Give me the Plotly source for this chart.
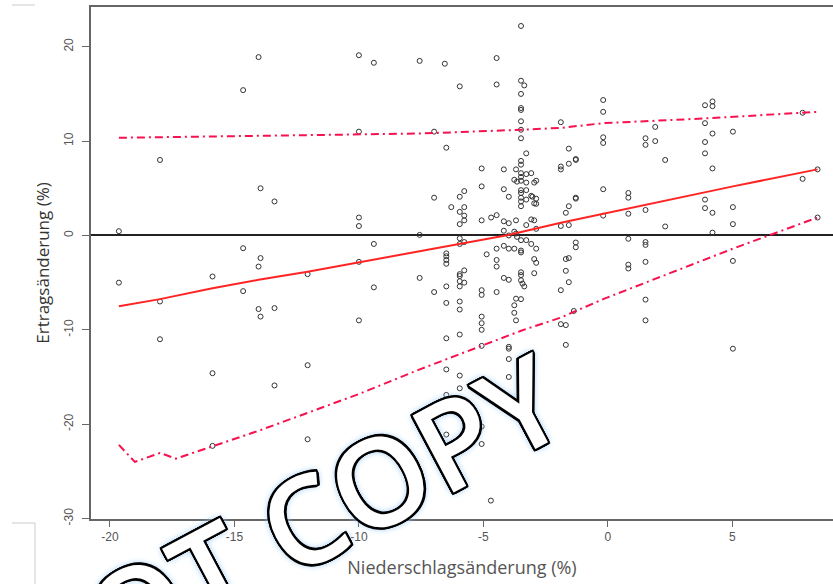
import plotly.graph_objects as go

# ---------------- data ----------------
# precipitation change (%) of each station column, and the yield changes (%) observed there
col_x = [-19.64, -17.99, -15.88, -14.65, -14.03, -13.95, -13.39, -12.06, -10.0, -9.40,
         -7.56, -6.98, -6.55, -6.49, -6.29, -5.95, -5.77, -5.07, -4.87, -4.69,
         -4.70, -4.47, -4.18, -3.98, -3.76, -3.69, -3.65, -3.49, -3.43, -3.36,
         -3.28, -3.08, -3.03, -2.96, -2.88, -1.89, -1.69, -1.57, -1.37, -1.29,
         -0.19, 0.82, 1.51, 1.90, 2.30, 3.90, 4.20, 5.02, 7.82, 8.42]
col_y = [
    [0.45, -5.0],
    [8.0, -7.0, -11.0],
    [-4.35, -14.6, -22.3],
    [15.4, -1.35, -5.9],
    [18.9, -3.3, -7.8],
    [5.0, -2.4, -8.6],
    [3.6, -7.7, -15.9],
    [-4.1, -13.75, -21.6],
    [19.1, 11.0, 1.9, 1.0, -2.8, -9.0],
    [18.3, -0.9, -5.5],
    [18.5, 0.06, -4.5],
    [11.0, 4.0, -6.0],
    [18.2],
    [9.3, -1.9, -2.2, -2.6, -3.0, -5.4, -7.15, -10.9, -14.2, -16.9, -18.2, -21.1],
    [3.0, -22.1],
    [15.8, 4.1, 2.5, 1.2, -0.3, -0.9, -4.1, -4.3, -4.85, -5.4, -7.0, -7.85, -10.5, -14.85, -16.2],
    [4.7, 3.0, 2.1, 1.6, -0.7, -3.7, -5.0, -18.1],
    [7.1, 5.2, 1.6, -5.8, -6.3, -8.6, -9.3, -10.0, -11.7, -20.25, -22.1],
    [-2.0],
    [1.9],
    [-28.1],
    [18.8, 16.0, 2.15, -1.4, -2.6, -3.3, -6.0],
    [7.0, 4.9, 1.5, 0.5, -1.1, -4.5],
    [4.1, 1.3, 0.0, -1.4, -4.7, -11.8, -12.0, -13.1, -15.0],
    [5.9, 0.4, -1.4, -7.4, -8.2],
    [7.0, 1.6, 0.2, -6.7, -9.0],
    [5.7, -0.15],
    [22.2, 16.4, 15.0, 13.5, 13.3, 12.1, 11.2, 10.3, 7.9, 7.5, 6.6, 6.2, 5.8, 4.8, 4.5,
     4.0, 3.6, 3.1, -0.5, -1.6, -1.8, -3.9, -4.2, -4.75, -6.75],
    [-5.1],
    [15.9, -5.4],
    [8.7, 6.5, 5.6, 4.8, 3.8, 1.1, -0.5],
    [6.6, 4.2, 1.7, -0.9],
    [4.1],
    [5.6, 3.4, 1.6, -2.5, -4.0],
    [5.8, 3.9, 3.35, 0.7, -1.4, -2.9],
    [12.0, 7.3, 7.0, 1.0, -5.8, -9.4],
    [2.4, -2.5, -3.75, -9.5, -11.6],
    [9.2, 7.6, 3.1, 1.1, -2.4, -4.95],
    [-8.0],
    [8.1, 8.0, 4.0, 3.9, -0.75, -1.25],
    [14.35, 13.1, 10.4, 9.8, 4.9, 2.1],
    [4.5, 4.0, 2.3, -0.35, -3.1, -3.5],
    [10.3, 9.6, 2.7, -0.7, -1.0, -2.8, -6.8, -9.0],
    [11.5, 10.0],
    [8.0, 0.95],
    [13.8, 11.9, 9.9, 8.7, 3.8, 2.9],
    [14.2, 13.7, 10.8, 7.1, 2.4, 0.3],
    [11.0, 3.0, 1.2, -2.7, -12.0],
    [13.0, 6.0],
    [7.0, 1.9],
]

# fitted line and the upper / lower bounds
fit_x = [-19.64, -17.99, -15.88, -14.03, -12.06, -10.0, -7.56, -5.97, -4.0, -1.89, -0.19, 1.51, 4.2, 5.02, 8.42]
fit_y = [-7.5, -6.75, -5.6, -4.7, -3.85, -2.85, -1.65, -0.85, 0.05, 1.35, 2.3, 3.2, 4.7, 5.2, 7.0]

upper_x = [-19.64, -12.37, -7.55, -3.49, -1.89, -0.19, 3.9, 8.42]
upper_y = [10.35, 10.6, 10.8, 11.2, 11.4, 11.9, 12.4, 13.1]

lower_x = [-19.64, -19.0, -17.99, -17.35, -15.88, -14.03, -12.06, -10.0, -7.56, -5.07, -3.49, -1.89, -0.19, 1.51, 4.2, 5.02, 8.42]
lower_y = [-22.2, -24.0, -23.05, -23.65, -22.35, -20.7, -18.8, -16.8, -14.2, -11.7, -10.1, -8.7, -6.75, -5.0, -2.3, -1.4, 1.9]

x_ticks = [-20, -15, -10, -5, 0, 5]
y_ticks = [-30, -20, -10, 0, 10, 20]
x_title = "Niederschlagsänderung (%)"
y_title = "Ertragsänderung (%)"
watermark = "DO NOT COPY"

# ---------------- figure ----------------
pts_x, pts_y = [], []
for cx, ys in zip(col_x, col_y):
    for v in ys:
        pts_x.append(cx)
        pts_y.append(v)

fig = go.Figure()
fig.add_trace(go.Scatter(
    x=pts_x, y=pts_y, mode="markers",
    marker=dict(symbol="circle-open", size=5, color="#333333", line=dict(width=1, color="#333333")),
    hoverinfo="skip", showlegend=False))
fig.add_trace(go.Scatter(x=upper_x, y=upper_y, mode="lines",
                         line=dict(color="#f5124e", width=2, dash="8px,4px,2px,4px"), showlegend=False))
fig.add_trace(go.Scatter(x=lower_x, y=lower_y, mode="lines",
                         line=dict(color="#f5124e", width=2, dash="8px,4px,2px,4px"), showlegend=False))
fig.add_trace(go.Scatter(x=fit_x, y=fit_y, mode="lines",
                         line=dict(color="#ff2424", width=2), showlegend=False))

W, H = 833, 584
L, R, T, B = 91, 0, 7, 65
pw, ph = W - L - R, H - T - B

tickfont = dict(family="Liberation Sans, Arial, sans-serif", size=12, color="#555555")

fig.update_layout(
    width=W, height=H,
    margin=dict(l=L, r=R, t=T, b=B, pad=0),
    paper_bgcolor="white", plot_bgcolor="white",
    showlegend=False,
    xaxis=dict(range=[-20.76, 9.04], tickvals=x_ticks, ticktext=[str(v) for v in x_ticks],
               ticks="outside", ticklen=6, tickwidth=1, tickcolor="#666666",
               showline=True, linecolor="#666666", linewidth=1.5, mirror=True,
               showgrid=False, zeroline=False, tickfont=tickfont,
               title=dict(text=x_title, font=dict(family="Open Sans, sans-serif", size=18, color="#555555"),
                          standoff=18)),
    yaxis=dict(range=[-30.05, 24.21], tickvals=y_ticks, ticktext=[str(v) for v in y_ticks],
               tickangle=-90, ticks="outside", ticklen=7, tickwidth=1, tickcolor="#666666",
               showline=True, linecolor="#666666", linewidth=1.5, mirror=False,
               showgrid=False, zeroline=True, zerolinecolor="#222222", zerolinewidth=1.5,
               tickfont=tickfont, ticklabelstandoff=4,
               title=dict(text=y_title, font=dict(family="Open Sans, sans-serif", size=17, color="#333333"),
                          standoff=9)),
)

def px(xp):
    return (xp - L) / pw

def py(yp):
    return (H - B - yp) / ph

# scan artefacts on the left edge
for (x0, y0, x1, y1) in [(12, 5, 35, 5), (12, 523, 35, 523), (35, 523, 35, 584)]:
    fig.add_shape(type="line", xref="paper", yref="paper",
                  x0=px(x0), y0=py(y0), x1=px(x1), y1=py(y1),
                  line=dict(color="#cccccc", width=1))

outline = ", ".join(f"{dx}px {dy}px 0 #000" for dx, dy in
                    [(-2, -2), (2, -2), (-2, 2), (2, 2), (0, -2), (0, 2), (-2, 0), (2, 0),
                     (-1, -2), (1, -2), (-1, 2), (1, 2), (-2, -1), (2, -1), (-2, 1), (2, 1)])
glow = "0 0 6px #8cc0ee, 0 0 9px #a8d0f4"
fig.add_annotation(
    text=watermark, xref="paper", yref="paper", x=px(185), y=py(582),
    xanchor="center", yanchor="middle", showarrow=False, textangle=-28,
    font=dict(family="Open Sans, sans-serif", size=122, color="white", weight=600,
              shadow=outline + ", " + glow))

fig.write_html("out.html")
